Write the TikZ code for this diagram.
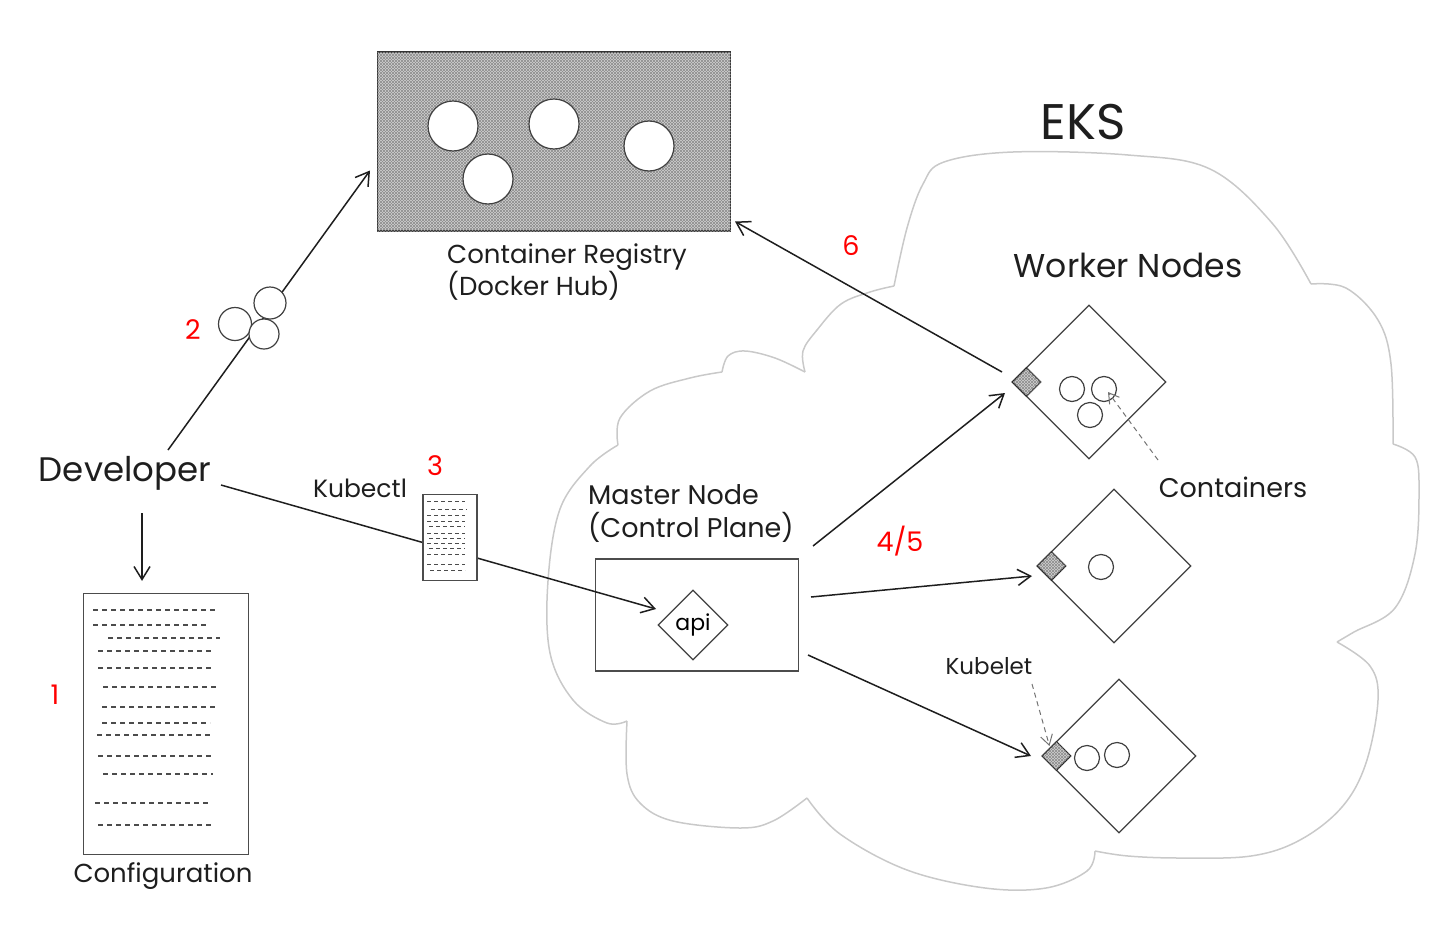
\documentclass[tikz,border=0pt]{standalone}
\usepackage{fontspec}
\setmainfont{Poppins}
\usepackage{tikz}
\usetikzlibrary{positioning, shapes.geometric, arrows.meta, patterns}
\definecolor{ink}{HTML}{1E1E1E}
\definecolor{cloudgray}{HTML}{C9C9C9}
\tikzset{
	labe/.append style={
		text=ink,
		align=left,
		inner sep=0pt,
		font={\fontsize{27}{33}\selectfont}
	},
	num/.append style={
		text=red,
		inner sep=0pt,
		font={\fontsize{27}{30}\selectfont}
	},
	arr/.append style={
		draw=ink,
		line width=1.5pt,
		-{Straight Barb[length=13pt,width=16pt]}
	},
	hint/.append style={
		draw=black!55,
		line width=1pt,
		dash pattern=on 5pt off 4pt,
		-{Straight Barb[length=10pt,width=12pt]}
	},
	cloudline/.append style={
		draw=cloudgray,
		line width=1.5pt
	},
	hatched/.append style={
		fill=black!18,
		postaction={pattern=north east lines, pattern color=black!45},
		postaction={pattern=north west lines, pattern color=black!45}
	},
	doc/.append style={
		draw=black!70,
		fill=white,
		line width=1.2pt,
		inner sep=0pt
	},
	docline/.append style={
		draw=black!70,
		line width=1.1pt,
		dash pattern=on 5pt off 4pt
	},
	ctr/.append style={
		circle,
		draw=black!75,
		fill=white,
		line width=1.2pt,
		inner sep=0pt,
		minimum size=25pt
	},
	worker/.append style={
		diamond,
		draw=black!75,
		line width=1.2pt,
		inner sep=0pt,
		minimum size=154pt
	},
	kubeletbox/.append style={
		diamond,
		draw=black!85,
		hatched,
		line width=1.2pt,
		inner sep=0pt,
		minimum size=29pt
	}
}

\begin{document}
\begin{tikzpicture}[x=1pt, y=-1pt]
	\useasboundingbox (0,0) rectangle (1446,937);

	% EKS cloud
	\draw[cloudline] plot[smooth, tension=0.6] coordinates {(627,721) (607,723) (573,700) (550,653) (548,581) (560,509) (590,466) (618,445)};
	\draw[cloudline] plot[smooth, tension=0.6] coordinates {(618,445) (620,418) (650,391) (690,378) (722,372)};
	\draw[cloudline] plot[smooth, tension=0.6] coordinates {(722,372) (728,356) (745,351) (775,358) (805,372)};
	\draw[cloudline] plot[smooth, tension=0.6] coordinates {(805,372) (803,351) (817,330) (841,304) (870,292) (894,286)};
	\draw[cloudline] plot[smooth, tension=0.6] coordinates {(894,286) (907,228) (923,184) (944,162) (1013,152) (1128,155) (1210,169) (1272,223) (1311,284)};
	\draw[cloudline] plot[smooth, tension=0.6] coordinates {(1311,284) (1346,288) (1378,320) (1391,364) (1393,444)};
	\draw[cloudline] plot[smooth, tension=0.6] coordinates {(1393,444) (1415,457) (1419,491) (1415,554) (1395,608) (1354,632) (1337,642)};
	\draw[cloudline] plot[smooth, tension=0.6] coordinates {(1337,642) (1370,666) (1378,700) (1366,763) (1342,807) (1300,840) (1251,856) (1180,858) (1128,856) (1095,851)};
	\draw[cloudline] plot[smooth, tension=0.6] coordinates {(1095,851) (1087,871) (1046,888) (985,888) (907,870) (840,834) (807,798)};
	\draw[cloudline] plot[smooth, tension=0.6] coordinates {(807,798) (773,821) (740,828) (673,821) (640,803) (627,774) (627,721)};
	\node[labe, font={\fontsize{50}{56}\selectfont}] (eks) at (1083,122) {EKS};

	% registry
	\node[draw=black!80, line width=1.2pt, hatched, minimum width=353pt, minimum height=179pt] (reg) at (554,141.5) {};
	\foreach \p [count=\i] in {{453,126}, {554,124}, {488,179}, {649,146}}
		\node[ctr, minimum size=50pt] (img\i) at (\p) {};
	\node[labe, font={\fontsize{26}{32}\selectfont}, anchor=west] (reglabel) at (447,272) {Container Registry\\(Docker Hub)};

	% developer
	\node[labe, font={\fontsize{34}{40}\selectfont}] (dev) at (125,473) {Developer};
	\node[doc, minimum width=165pt, minimum height=261pt] (conf) at (166,724) {};
	\foreach \y/\a/\b in {610/93/217, 625/93/208, 638/108/220, 651/98/211, 668/98/213, 687/103/216, 707/102/215, 723/102/210, 735/97/213, 756/98/213, 774/103/213, 803/95/209, 825/98/213}
		\draw[docline] (\a,\y) -- (\b,\y);
	\node[labe, font={\fontsize{26}{30}\selectfont}] (conflabel) at (163,876) {Configuration};
	\draw[arr] ([shift={(17,40)}]dev.center) -- ([shift={(-24,-12)}]conf.north);

	% master node
	\node[draw=black!70, line width=1.2pt, minimum width=203pt, minimum height=112pt] (master) at (697,615) {};
	\node[diamond, draw=black!75, line width=1.2pt, inner sep=0pt, minimum size=70pt, font={\fontsize{22}{26}\selectfont}] (api) at (693,625) {api};
	\node[labe, anchor=west] (masterlabel) at (588,514) {Master Node\\(Control Plane)};

	\draw[arr] ([shift={(43,-23)}]dev.center) -- ([shift={(-184,29)}]reg.center);
	\node[ctr, minimum size=33pt] (m1) at (235,324) {};
	\node[ctr, minimum size=32pt] (m2) at (270,303) {};
	\node[ctr, minimum size=30pt] (m3) at (264,334) {};

	\draw[arr] ([shift={(96,12)}]dev.center) -- ([shift={(-37,-16)}]api.center);
	\node[doc, minimum width=54pt, minimum height=86pt] (kub) at (450,537.5) {};
	\foreach \y/\a/\b in {501/427/465, 509/431/467, 515/427/465, 521/427/465, 526/429/465, 533/427/465, 538/429/465, 543/427/465, 548/429/465, 554/427/465, 564/427/465, 570/430/465}
		\draw[docline, line width=0.9pt, dash pattern=on 4pt off 3pt] (\a,\y) -- (\b,\y);
	\node[labe, font={\fontsize{25}{30}\selectfont}] (kubectl) at (360,488) {Kubectl};

	% worker nodes
	\node[labe, font={\fontsize{33}{38}\selectfont}] (wlabel) at (1128,265) {Worker Nodes};
	\node[worker] (w1) at (1089,382) {};
	\node[worker] (w2) at (1114,566) {};
	\node[worker] (w3) at (1119,756) {};
	\node[kubeletbox, anchor=west] (k1) at (w1.west) {};
	\node[kubeletbox, anchor=west] (k2) at (w2.west) {};
	\node[kubeletbox, anchor=west] (k3) at (w3.west) {};
	\node[ctr] (c11) at (1072,389) {};
	\node[ctr] (c12) at (1104,389) {};
	\node[ctr] (c13) at (1090,415) {};
	\node[ctr] (c21) at (1101,567) {};
	\node[ctr] (c31) at (1087,758) {};
	\node[ctr] (c32) at (1117,755) {};
	\node[labe] (containers) at (1233,487) {Containers};
	\node[labe, font={\fontsize{23}{28}\selectfont}] (kubelet) at (989,666) {Kubelet};

	\draw[arr] ([shift={(116,-69)}]master.center) -- ([shift={(-84,11)}]w1.center);
	\draw[arr] ([shift={(114,-18)}]master.center) -- ([shift={(-82,10)}]w2.center);
	\draw[arr] ([shift={(111,40)}]master.center) -- ([shift={(-88,0)}]w3.center);
	\draw[arr] ([shift={(-87,-10)}]w1.center) -- ([shift={(181,80)}]reg.center);
	\draw[hint] ([shift={(-75,-27)}]containers.center) -- ([shift={(4,3)}]c12.center);
	\draw[hint] ([shift={(43,18)}]kubelet.center) -- ([shift={(-7,-10)}]k3.center);

	% steps
	\node[num] (n1) at (55,695) {1};
	\node[num] (n2) at (193,330) {2};
	\node[num] (n3) at (435,466) {3};
	\node[num] (n45) at (900,541) {4/5};
	\node[num] (n6) at (851,246) {6};
\end{tikzpicture}
\end{document}
